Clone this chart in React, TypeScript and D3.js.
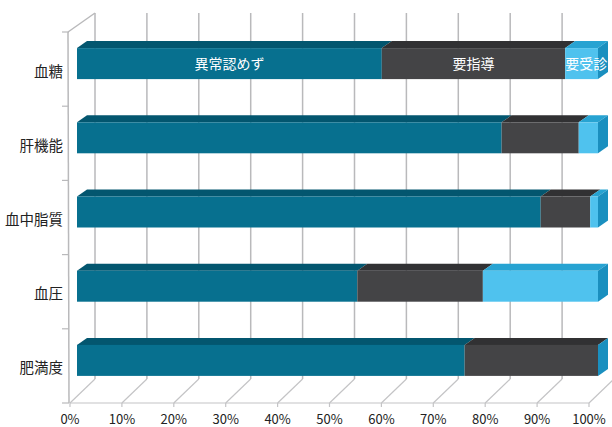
import * as d3 from "d3";

const categories = ["血糖", "肝機能", "血中脂質", "血圧", "肥満度"];
const seriesNames = ["異常認めず", "要指導", "要受診"];
const normal = [58.5, 81.5, 89.0, 53.8, 74.4];
const guidance = [35.2, 14.8, 9.5, 24.1, 25.6];
const visit = [6.3, 3.7, 1.5, 22.1, 0];
const xTicks = [0, 10, 20, 30, 40, 50, 60, 70, 80, 90, 100];

const W = 612;
const H = 427;

// 3D look: depth offsets
const wallDx = 25;
const wallDy = 24;
const barDx = 10;
const barDy = 7;

const colors = [
  { front: "#07708f", top: "#03566f", side: "#045f7c" },
  { front: "#444446", top: "#313133", side: "#3a3a3c" },
  { front: "#4fc2ee", top: "#27a3d2", side: "#1a8fbf" },
];

export default function App() {
  const x = d3.scaleLinear().domain([0, 100]).range([70, 589]);
  const barX = d3.scaleLinear().domain([0, 100]).range([77, 598]);
  const y = d3.scaleBand().domain(categories).range([32, 403]).padding(0);
  const frontBottom = 403;
  const backTop = 13;

  const rows = categories.map((c, i) => {
    const vals = [normal[i], guidance[i], visit[i]];
    const stack: { x0: number; x1: number; k: number }[] = [];
    let acc = 0;
    vals.forEach((v, k) => {
      stack.push({ x0: acc, x1: acc + v, k });
      acc += v;
    });
    return { c, stack };
  });

  const poly = (pts: [number, number][]) => pts.map((p) => p.join(",")).join(" ");

  return (
    <svg width={W} height={H} style={{ position: "absolute", left: 0, top: 0 }}
      fontFamily="'Noto Sans CJK JP', 'Noto Sans', sans-serif">
      <rect width={W} height={H} fill="#fff" />
      {/* back wall gridlines */}
      {xTicks.map((t) => (
        <line key={"g" + t} x1={x(t) + wallDx} x2={x(t) + wallDx} y1={backTop}
          y2={frontBottom - wallDy} stroke="#b9b9bb" strokeWidth={1.5} />
      ))}
      {/* floor diagonals */}
      {xTicks.map((t) => (
        <line key={"f" + t} x1={x(t)} x2={x(t) + wallDx} y1={frontBottom}
          y2={frontBottom - wallDy} stroke="#c4c4c6" strokeWidth={1.2} />
      ))}
      <line x1={x(0)} x2={x(100)} y1={frontBottom} y2={frontBottom} stroke="#c4c4c6" strokeWidth={1.2} />
      {/* left wall */}
      <line x1={68} x2={69} y1={32} y2={frontBottom} stroke="#b9b9bb" strokeWidth={1.5} />
      <line x1={68} x2={x(0) + wallDx} y1={32} y2={backTop} stroke="#b9b9bb" strokeWidth={1.5} />
      {y.domain().map((c) => (
        <line key={"t" + c} x1={62} x2={69} y1={y(c)!} y2={y(c)!} stroke="#b9b9bb" strokeWidth={1.2} />
      ))}
      <line x1={62} x2={69} y1={frontBottom} y2={frontBottom} stroke="#b9b9bb" strokeWidth={1.2} />
      {/* x tick marks */}
      {xTicks.map((t) => (
        <line key={"m" + t} x1={x(t)} x2={x(t)} y1={frontBottom} y2={frontBottom + 4}
          stroke="#c4c4c6" strokeWidth={1.2} />
      ))}
      {/* bars */}
      {rows.map(({ c, stack }) => {
        const cy = y(c)! + y.bandwidth() / 2;
        const top = cy - 21;
        const bot = top + 31;
        return (
          <g key={c}>
            {stack.map((s, idx) => {
              const a = barX(s.x0);
              const b = barX(s.x1);
              const col = colors[s.k];
              const last = idx === stack.length - 1;
              return (
                <g key={s.k}>
                  <polygon points={poly([[a, top], [a + barDx, top - barDy], [b + barDx, top - barDy], [b, top]])} fill={col.top} />
                  <rect x={a} y={top} width={Math.max(0, b - a)} height={bot - top} fill={col.front} />
                  {last && (
                    <polygon points={poly([[b, top], [b + barDx, top - barDy], [b + barDx, bot - barDy], [b, bot]])} fill={col.side} />
                  )}
                </g>
              );
            })}
          </g>
        );
      })}
      {/* segment labels on first bar */}
      {rows[0].stack.map((s) => {
        const cy = y(rows[0].c)! + y.bandwidth() / 2;
        const cx = s.k === 2 ? barX(s.x0) + 21 : (barX(s.x0) + barX(s.x1)) / 2;
        return (
          <text key={"l" + s.k} x={cx} y={cy - 6} fill="#fff" fontSize={14}
            textAnchor="middle" dominantBaseline="central">{seriesNames[s.k]}</text>
        );
      })}
      {/* category labels */}
      {categories.map((c) => (
        <text key={"c" + c} x={63} y={y(c)! + y.bandwidth() / 2 + 1} fontSize={14.5}
          fill="#222" textAnchor="end" dominantBaseline="central">{c}</text>
      ))}
      {/* x labels */}
      {xTicks.map((t) => (
        <text key={"x" + t} x={x(t)} y={418} fontSize={13} fill="#222"
          textAnchor="middle" dominantBaseline="central">{t}%</text>
      ))}
    </svg>
  );
}
